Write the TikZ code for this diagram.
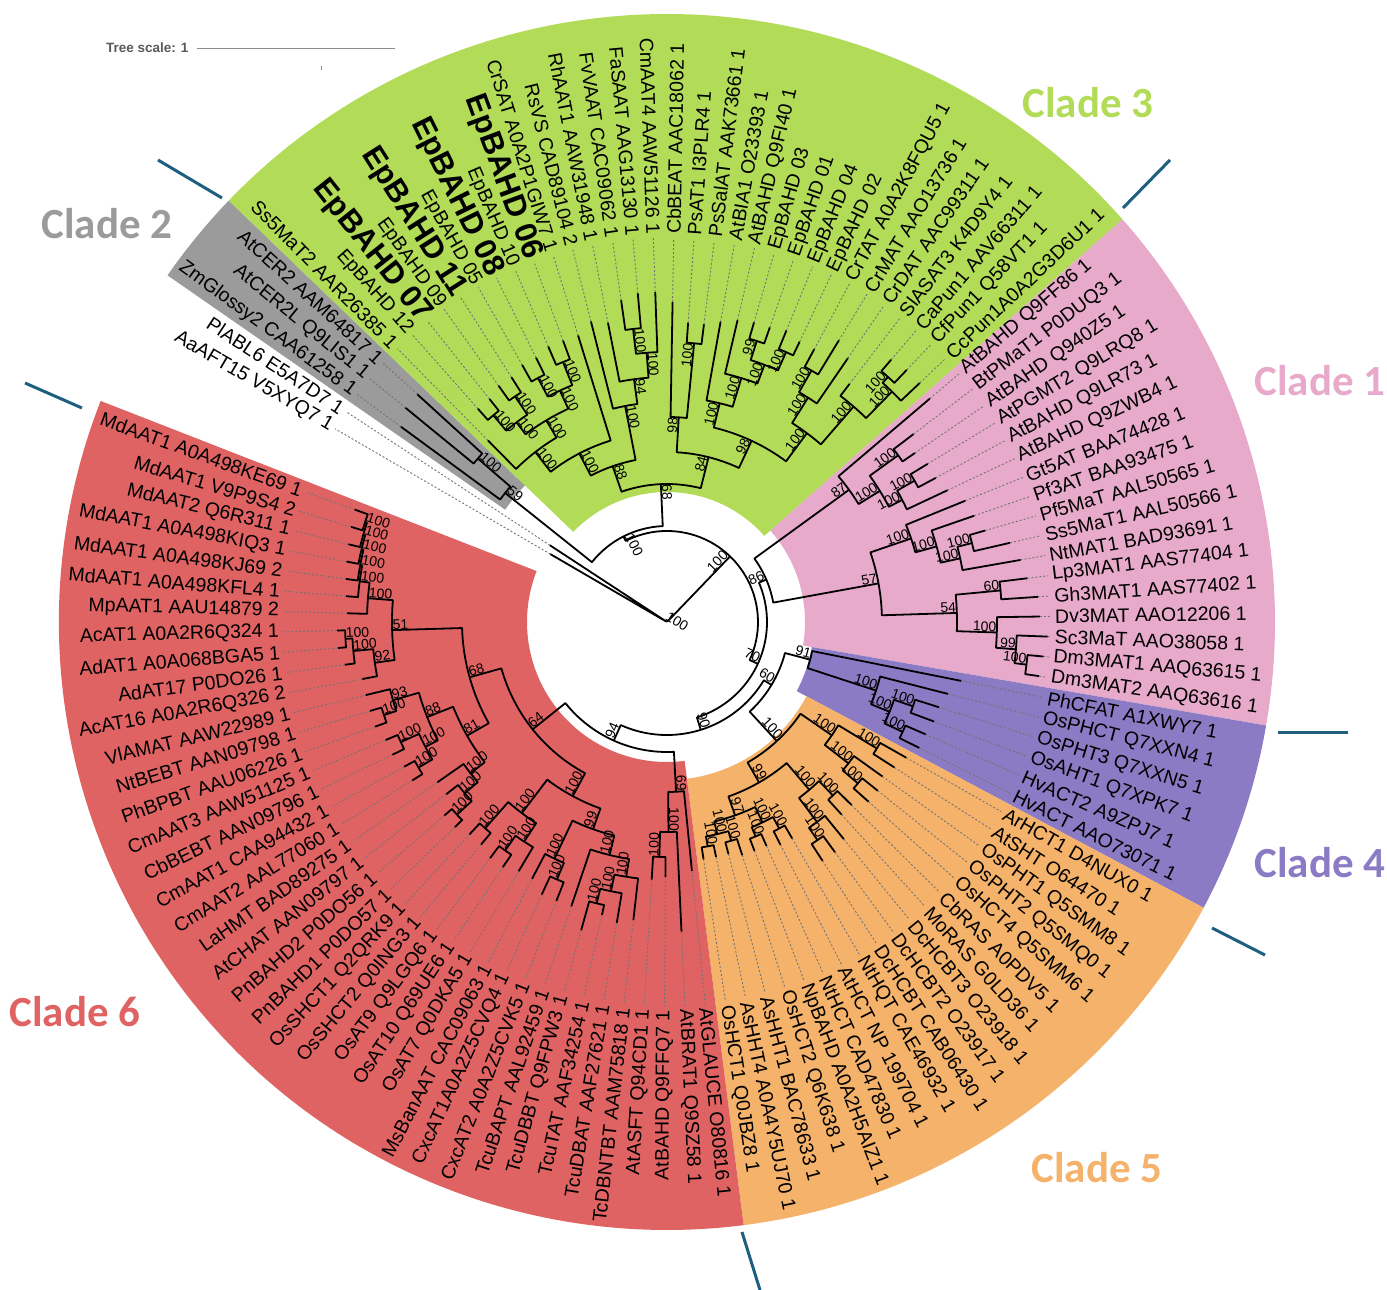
\documentclass[tikz,border=0pt]{standalone}
\usepackage{fontspec}
\setmainfont{Liberation Sans}
\newfontfamily\cladefont{Carlito}
\usetikzlibrary{calc}

\definecolor{cladeone}{HTML}{E8AACA}
\definecolor{cladetwo}{HTML}{9B9B9B}
\definecolor{cladethree}{HTML}{B2DC58}
\definecolor{cladefour}{HTML}{8A7BC4}
\definecolor{cladefive}{HTML}{F5B26A}
\definecolor{cladesix}{HTML}{E06363}
\definecolor{tickblue}{HTML}{1E5F80}

\newcommand\epb{\bfseries\fontsize{31}{31}\selectfont}
% coloured ring sector: start angle, end angle, inner radius, colour
\newcommand\mysector[4]
{
\fill[#4] (#1:#3) arc[start angle=#1, end angle=#2, radius=#3pt]
  -- (#2:608) arc[start angle=#2, end angle=#1, radius=608pt] -- cycle;
}
% leaf: index, tip radius, text
\newcommand\mytip[3]
{
\pgfmathsetmacro\ta{149.8-3.04*(#1-1)}
\expandafter\xdef\csname na@#1\endcsname{\ta}
\expandafter\xdef\csname nr@#1\endcsname{#2}
\draw[leader] (\ta:#2)--(\ta:384);
\pgfmathsetmacro\tc{cos(\ta)}
\ifdim\tc pt<0pt
  \node[leaf, rotate=\ta+180, anchor=east] (L#1) at (\ta:388) {#3};
\else
  \node[leaf, rotate=\ta, anchor=west] (L#1) at (\ta:388) {#3};
\fi
}
% inner node: name, child, child, radius, bootstrap
\newcommand\myjoin[5]
{
\edef\aA{\csname na@#2\endcsname}\edef\rA{\csname nr@#2\endcsname}
\edef\aB{\csname na@#3\endcsname}\edef\rB{\csname nr@#3\endcsname}
\draw[branch] (\aA:\rA)--(\aA:#4) arc[start angle=\aA, end angle=\aB, radius=#4pt]--(\aB:\rB);
\pgfmathsetmacro\aM{(\aA+\aB)/2}
\expandafter\xdef\csname na@#1\endcsname{\aM}
\expandafter\xdef\csname nr@#1\endcsname{#4}
\pgfmathsetmacro\tc{cos(\aM)}
\ifdim\tc pt<0pt
  \node[boot, rotate=\aM+180, anchor=south west] (bs#1) at (\aM:#4) {#5};
\else
  \node[boot, rotate=\aM, anchor=south east] (bs#1) at (\aM:#4) {#5};
\fi
}

\begin{document}
\begin{tikzpicture}[x=1pt, y=1pt, line join=round,
  leaf/.style={font=\fontsize{19.5}{20}\selectfont, inner sep=0pt},
  boot/.style={font=\fontsize{14}{14}\selectfont, inner sep=0.5pt},
  branch/.style={line width=1.8pt},
  leader/.style={black!55, dash pattern=on 2pt off 2pt, line width=0.9pt},
  cladelab/.style={font=\cladefont\bfseries\fontsize{43}{43}\selectfont}]
\useasboundingbox (-667,-668) rectangle (720,622);

\mysector{145.24}{136.12}{197}{cladetwo}
\mysector{136.12}{41.48}{130}{cladethree}
\mysector{41.48}{-9.8}{138}{cladeone}
\mysector{-9.8}{-28.04}{147}{cladefour}
\mysector{-28.04}{-82.76}{158}{cladefive}
\mysector{-82.76}{-201.32}{140}{cladesix}

\foreach \i/\rr/\txt in {
 1/135/{AaAFT15 V5XYQ7 1}, 2/140/{PlABL6 E5A7D7 1},
 3/330/{ZmGlossy2 CAA61258 1}, 4/338/{AtCER2L Q9LIS1 1}, 5/338/{AtCER2 AAM64817 1},
 6/255/{Ss5MaT2 AAR26385 1}, 7/285/{EpBAHD 12}, 8/285/{\epb EpBAHD 07},
 9/290/{EpBAHD 09}, 10/290/{\epb EpBAHD 11}, 11/295/{EpBAHD 05},
 12/295/{\epb EpBAHD 08}, 13/300/{EpBAHD 10}, 14/300/{\epb EpBAHD 06},
 15/300/{CrSAT A0A2P1GIW7 1}, 16/310/{RsVS CAD89104 2}, 17/305/{RhAAT1 AAW31948 1},
 18/325/{FvVAAT CAC09062 1}, 19/330/{FaSAAT AAG13130 1}, 20/330/{CmAAT4 AAW51126 1},
 21/320/{CbBEAT AAC18062 1}, 22/300/{PsAT1 I3PLR4 1}, 23/300/{PsSalAT AAK73661 1},
 24/305/{AtBIA1 O23393 1}, 25/310/{AtBAHD Q9FI40 1}, 26/312/{EpBAHD 03},
 27/312/{EpBAHD 01}, 28/315/{EpBAHD 04}, 29/310/{EpBAHD 02},
 30/310/{CrTAT A0A2K8FQU5 1}, 31/330/{CrMAT AAO13736 1}, 32/320/{CrDAT AAC99311 1},
 33/300/{SlASAT3 K4D9Y4 1}, 34/345/{CaPun1 AAV66311 1}, 35/348/{CfPun1 Q58VT1 1},
 36/348/{CcPun1A0A2G3D6U1 1},
 37/345/{AtBAHD Q9FF86 1}, 38/310/{BtPMaT1 P0DUQ3 1}, 39/300/{AtBAHD Q940Z5 1},
 40/305/{AtPGMT2 Q9LRQ8 1}, 41/305/{AtBAHD Q9LR73 1}, 42/310/{AtBAHD Q9ZWB4 1},
 43/322/{Gt5AT BAA74428 1}, 44/325/{Pf3AT BAA93475 1}, 45/331/{Pf5MaT AAL50565 1},
 46/352/{Ss5MaT1 AAL50566 1}, 47/359/{NtMAT1 BAD93691 1}, 48/363/{Lp3MAT1 AAS77404 1},
 49/372/{Gh3MAT1 AAS77402 1}, 50/373/{Dv3MAT AAO12206 1}, 51/381/{Sc3MaT AAO38058 1},
 52/378/{Dm3MAT1 AAQ63615 1}, 53/376/{Dm3MAT2 AAQ63616 1},
 54/300/{PhCFAT A1XWY7 1}, 55/290/{OsPHCT Q7XXN4 1}, 56/285/{OsPHT3 Q7XXN5 1},
 57/285/{OsAHT1 Q7XPK7 1}, 58/282/{HvACT2 A9ZPJ7 1}, 59/282/{HvACT AAO73071 1},
 60/275/{ArHCT1 D4NUX0 1}, 61/270/{AtSHT O64470 1}, 62/265/{OsPHT1 Q5SMM8 1},
 63/270/{OsPHT2 Q5SMQ0 1}, 64/270/{OsHCT4 Q5SMM6 1}, 65/260/{CbRAS A0PDV5 1},
 66/260/{MoRAS G0LD36 1}, 67/280/{DcHCBT3 O23918 1}, 68/285/{DcHCBT2 O23917 1},
 69/285/{DcHCBT CAB06430 1}, 70/250/{NtHQT CAE46932 1}, 71/250/{AtHCT NP 199704 1},
 72/245/{NtHCT CAD47830 1}, 73/245/{NpBAHD A0A2H5AIZ1 1}, 74/245/{OsHCT2 Q6K638 1},
 75/240/{AsHHT1 BAC78633 1}, 76/240/{AsHHT4 A0A4Y5UJ70 1}, 77/240/{OsHCT1 Q0JBZ8 1},
 78/250/{AtGLAUCE O80816 1}, 79/310/{AtBRAT1 Q9SZ58 1}, 80/255/{AtBAHD Q9FFQ7 1},
 81/258/{AtASFT Q94CD1 1}, 82/300/{TcDBNTBT AAM75818 1}, 83/305/{TcuDBAT AAF27621 1},
 84/300/{TcuTAT AAF34254 1}, 85/320/{TcuDBBT Q9FPW3 1}, 86/300/{TcuBAPT AAL92459 1},
 87/300/{CxcAT2 A0A2Z5CVK5 1}, 88/300/{CxcAT1A0A2Z5CVQ4 1}, 89/290/{MsBanAAT CAC09063 1},
 90/290/{OsAT7 Q0DKA5 1}, 91/295/{OsAT10 Q69UE6 1}, 92/295/{OsAT9 Q9LGQ6 1},
 93/290/{OsSHCT2 Q0ING3 1}, 94/290/{OsSHCT1 Q2QRK9 1}, 95/295/{PnBAHD1 P0DO57 1},
 96/295/{PnBAHD2 P0DO56 1}, 97/280/{AtCHAT AAN09797 1}, 98/280/{LaHMT BAD89275 1},
 99/300/{CmAAT2 AAL77060 1}, 100/300/{CmAAT1 CAA94432 1}, 101/305/{CbBEBT AAN09796 1},
 102/305/{CmAAT3 AAW51125 1}, 103/310/{PhBPBT AAU06226 1}, 104/310/{NtBEBT AAN09798 1},
 105/310/{VlAMAT AAW22989 1}, 106/310/{AcAT16 A0A2R6Q326 2}, 107/325/{AdAT17 P0DO26 1},
 108/330/{AdAT1 A0A068BGA5 1}, 109/330/{AcAT1 A0A2R6Q324 1}, 110/320/{MpAAT1 AAU14879 2},
 111/322/{MdAAT1 A0A498KFL4 1}, 112/324/{MdAAT1 A0A498KJ69 2}, 113/326/{MdAAT1 A0A498KIQ3 1},
 114/328/{MdAAT2 Q6R311 1}, 115/330/{MdAAT1 V9P9S4 2}, 116/332/{MdAAT1 A0A498KE69 1}}
{\mytip{\i}{\rr}{\txt}}

\foreach \nn/\ca/\cb/\rr/\bs in {
 E1/7/8/270/100, E2/9/10/272/100, E3/11/12/276/100, E4/13/14/280/100,
 E12/E1/E2/250/100, E34/E3/E4/255/100, EE/E12/E34/235/100, SS/6/EE/215/100,
 SC/SS/15/190/100, B1/18/19/295/100, B2/B1/20/270/100, B3/17/B2/245/94,
 B4/16/B3/220/100, GAB/SC/B4/165/88, C1/22/23/280/100, C2/21/C1/205/98,
 D1/26/27/295/99, D2/28/29/295/100, D3/D1/D2/275/100, D4/25/D3/255/100,
 D5/24/D4/225/100, F1/34/35/330/100, F2/F1/36/322/100, F3/33/F2/285/100,
 G1/30/31/290/100, G2/G1/32/265/100, G3/G2/F3/235/100, GDE/D5/G3/200/98,
 GCDE/C2/GDE/170/84, GREEN/GAB/GCDE/138/68,
 GR1/4/5/250/100, GRAY/3/GR1/207/59, X/GRAY/GREEN/96/100,
 Q1/38/39/285/100, Q2/40/41/285/100, Q3/Q2/42/265/100, Q4/Q1/Q3/250/100,
 Q5/37/Q4/225/87, R1/45/46/315/100, R2/R1/47/300/100, R3/44/R2/280/100,
 R4/43/R3/258/100, S1/48/49/335/60, T1/52/53/362/100, T2/51/T1/350/99,
 T3/50/T2/330/100, S3/S1/T3/290/54, PBC/R4/S3/215/57, PINK/Q5/PBC/108/86,
 V1/56/57/260/100, V2/58/59/260/100, V3/V1/V2/240/100, V4/55/V3/220/100,
 V5/54/V4/148/91,
 O1/60/61/245/100, O2/63/64/250/100, O3/62/O2/230/100, O4/O1/O3/200/100,
 O5/65/66/240/100, O6/68/69/265/100, O7/67/O6/250/100, O8/O5/O7/220/100,
 O9/70/71/235/100, O10/72/73/232/100, O11/O9/O10/222/100, O12/74/75/228/100,
 O13/76/77/228/100, O14/O12/O13/218/100, O15/O11/O14/205/97, O16/O8/O15/185/99,
 O17/O4/O16/162/100, C/V5/O17/122/60,
 Ra1/80/81/235/100, Ra2/79/Ra1/210/100, Ra3/78/Ra2/170/69, Rb1/84/85/290/100,
 Rb2/83/Rb1/275/100, Rb3/82/Rb2/258/100, Rb4/Rb3/86/240/100, Rc1/87/88/280/100,
 Rc2/Rc1/89/262/100, Rbc/Rb4/Rc2/220/99, Rd1/91/92/280/100, Rd2/90/Rd1/262/100,
 Rd3/93/94/275/100, Rd4/Rd2/Rd3/240/100, Rbcd/Rbc/Rd4/198/100, Re1/95/96/285/100,
 Re2/Re1/97/265/100, Re3/Re2/98/248/100, Rf1/99/100/288/100, Rf2/101/102/292/100,
 Rf3/Rf1/Rf2/272/100, Rg1/103/104/298/100, Rg2/Rg1/105/285/93, Rg3/Rf3/Rg2/258/88,
 Reg/Re3/Rg3/230/81, Rh1/108/109/322/100, Rh2/107/Rh1/315/100, Rh3/106/Rh2/295/92,
 Ri1/115/116/318/100, Ri2/114/Ri1/316/100, Ri3/113/Ri2/314/100, Ri4/112/Ri3/312/100,
 Ri5/111/Ri4/310/100, Ri6/110/Ri5/300/100, Rhi/Rh3/Ri6/275/51, Rx/Reg/Rhi/205/68,
 Ry/Rbcd/Rx/172/64, RED/Ra3/Ry/130/94,
 D/C/RED/113/90, B/PINK/D/100/70, N1/X/B/91/100, OG/1/2/4/100, ROOT/OG/N1/1/{}}
{\myjoin{\nn}{\ca}{\cb}{\rr}{\bs}}

% clade names
\node[cladelab, text=cladethree] (c3) at (421,519) {Clade 3};
\node[cladelab, text=cladetwo]   (c2) at (-560,398) {Clade 2};
\node[cladelab, text=cladeone]   (c1) at (653,241) {Clade 1};
\node[cladelab, text=cladefour]  (c4) at (653,-241) {Clade 4};
\node[cladelab, text=cladefive]  (c5) at (430,-546) {Clade 5};
\node[cladelab, text=cladesix]   (c6) at (-592,-390) {Clade 6};

\draw[tickblue, line width=3pt] (-509,462)--(-445,424);
\draw[tickblue, line width=3pt] (456,414)--(503,462);
\draw[tickblue, line width=3pt] (-642,239)--(-585,214);
\draw[tickblue, line width=3pt] (611,-111)--(681,-111);
\draw[tickblue, line width=3pt] (545,-306)--(598,-333);
\draw[tickblue, line width=3pt] (75,-610)--(93,-668);

% scale bar
\node[font=\bfseries\fontsize{13.5}{14}\selectfont, text=black!65, anchor=east] (ts) at (-475,574) {Tree scale: 1};
\draw[black!45, line width=1pt] (-470,573)--(-272,573);
\draw[black!45, line width=0.8pt] (-346,556)--(-346,552);
\end{tikzpicture}
\end{document}
